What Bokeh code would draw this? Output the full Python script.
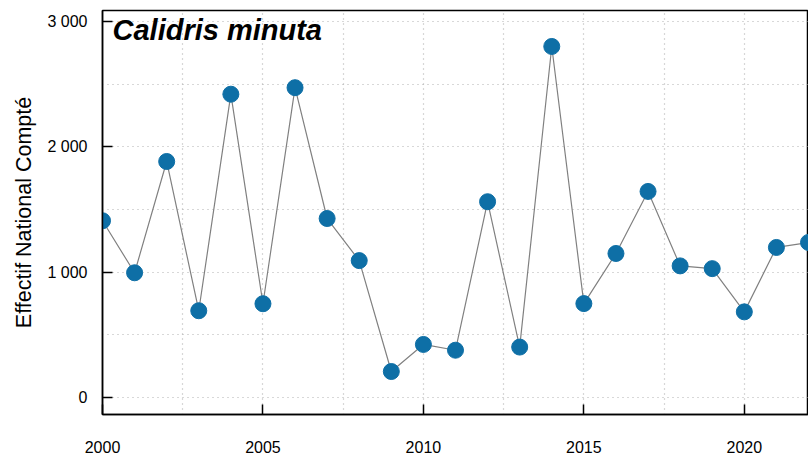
from bokeh.plotting import figure
from bokeh.models import FixedTicker, Label, Range1d, CustomJSTickFormatter
from bokeh.embed import file_html
from bokeh.resources import INLINE

years = list(range(2000, 2023))
counts = [1410, 995, 1883, 692, 2420, 748, 2472, 1428, 1092, 207, 423, 377,
          1562, 402, 2801, 749, 1149, 1644, 1050, 1028, 683, 1197, 1237]
y_ticks = [0, 1000, 2000, 3000]
x_label_ticks = [2000, 2005, 2010, 2015, 2020]
x_grid = [2002.5, 2005, 2007.5, 2010, 2012.5, 2015, 2017.5, 2020]
y_grid = [0, 500, 1000, 1500, 2000, 2500, 3000]
title_text = "Calidris minuta"
y_label = "Effectif National Compté"

FONT = "Liberation Sans"

p = figure(width=808, height=458, output_backend="svg", toolbar_location=None,
           x_range=Range1d(2000, 2022), y_range=Range1d(-136, 3088),
           min_border_left=102, min_border_right=0, min_border_top=10, min_border_bottom=44)

p.outline_line_color = "black"
p.outline_line_width = 1.5
p.background_fill_color = "white"
p.border_fill_color = "white"

# grids
p.xgrid.ticker = FixedTicker(ticks=x_grid)
p.ygrid.ticker = FixedTicker(ticks=y_grid)
for g in (p.xgrid, p.ygrid):
    g.grid_line_color = "#b0b0b0"
    g.grid_line_dash = "1 4"
    g.grid_line_width = 1.2

# y axis
ya = p.yaxis[0]
ya.ticker = FixedTicker(ticks=y_ticks)
ya.formatter = CustomJSTickFormatter(code="""
    return Math.round(tick).toString().replace(/\\B(?=(\\d{3})+(?!\\d))/g, ' ');
""")
ya.major_tick_in = 10
ya.major_tick_out = 0
ya.minor_tick_in = 0
ya.minor_tick_out = 0
ya.axis_line_color = "black"
ya.axis_line_width = 1.5
ya.major_tick_line_width = 1.5
ya.major_label_text_font = FONT
ya.major_label_text_font_size = "16px"
ya.major_label_text_color = "black"
ya.major_label_standoff = 15
ya.axis_label = y_label
ya.axis_label_text_font = FONT
ya.axis_label_text_font_size = "21.5px"
ya.axis_label_text_font_style = "normal"
ya.axis_label_text_color = "black"
ya.axis_label_standoff = 8

# x axis
xa = p.xaxis[0]
xa.ticker = FixedTicker(ticks=x_label_ticks)
xa.major_tick_in = 10
xa.major_tick_out = 0
xa.minor_tick_in = 0
xa.minor_tick_out = 0
xa.axis_line_color = "black"
xa.axis_line_width = 1.5
xa.major_tick_line_width = 1.5
xa.major_label_text_font = FONT
xa.major_label_text_font_size = "16px"
xa.major_label_text_color = "black"
xa.major_label_standoff = 26

p.line(years, counts, line_color="#808080", line_width=1.2)
p.scatter(years, counts, size=16, fill_color="#0e6fa6", line_color="#0e6fa6")

lbl = Label(x=2000, y=3088, x_offset=10, y_offset=-3, text=title_text,
            text_font=FONT, text_font_size="29px", text_font_style="bold italic",
            text_color="black", text_baseline="top", text_align="left")
p.add_layout(lbl)

open("out.html", "w").write(file_html(p, INLINE))
